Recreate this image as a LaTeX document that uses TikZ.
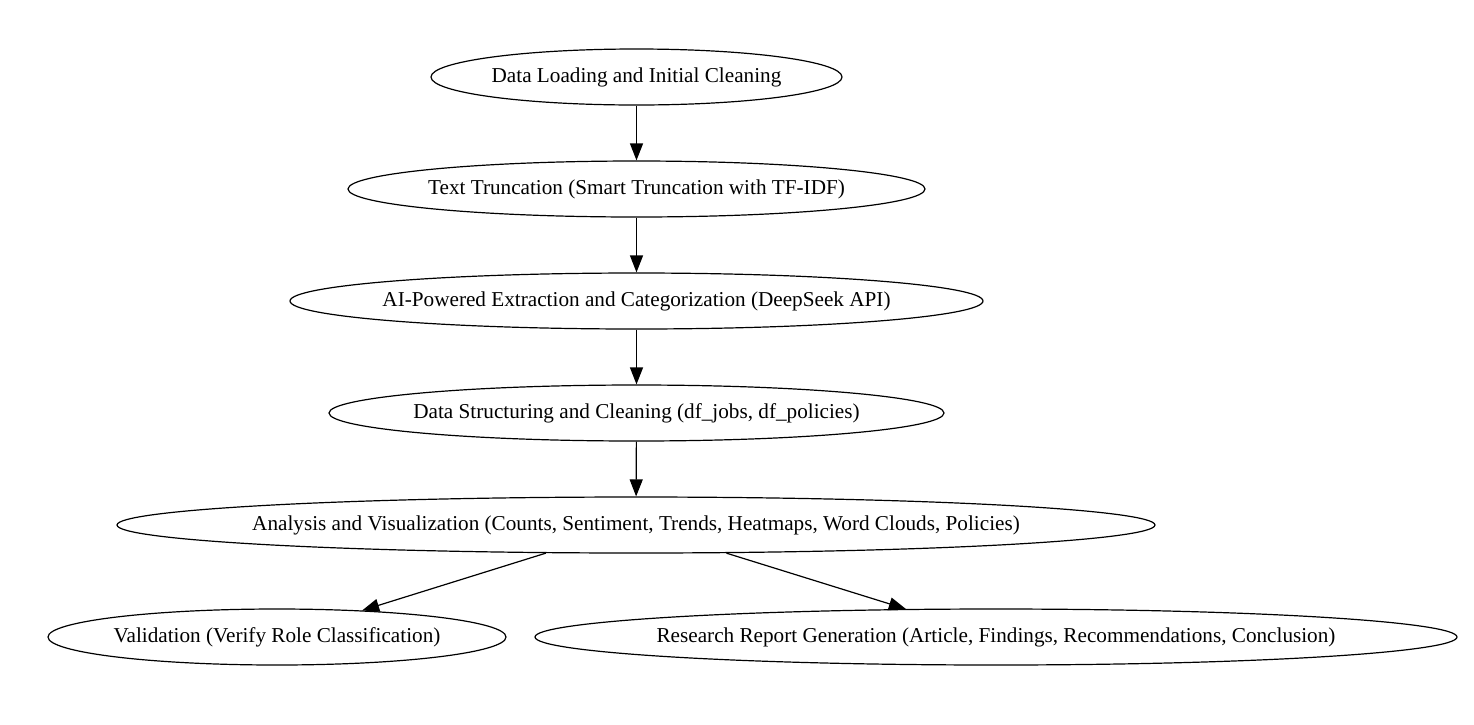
\documentclass[tikz,border=0pt]{standalone}
\usepackage{fontspec}
\setmainfont{Liberation Serif}
\usetikzlibrary{shapes.geometric,arrows.meta}
\newcommand{\etiq}[1]{\makebox[0pt]{#1}}
\tikzset{
  etape/.style={draw, ellipse, line width=1.2pt, inner sep=0pt,
    minimum height=56pt, font=\fontsize{21.2}{24}\selectfont},
  fleche/.style={line width=1.2pt, -{Triangle[length=17pt,width=13pt]}}
}
\begin{document}
\begin{tikzpicture}[x=1pt,y=-1pt]

\useasboundingbox (0,0) rectangle (1474,724);

% Etapes
\node[etape, minimum width=411pt] (chargement) at (636.5,77)
{\etiq{Data Loading and Initial Cleaning}};

\node[etape, minimum width=577pt] (troncature) at (636.5,189)
{\etiq{Text Truncation (Smart Truncation with TF-IDF)}};

\node[etape, minimum width=693pt] (extraction) at (636.5,301)
{\etiq{AI-Powered Extraction and Categorization (DeepSeek API)}};

\node[etape, minimum width=615pt] (structure) at (636.5,413)
{\etiq{Data Structuring and Cleaning (df\_jobs, df\_policies)}};

\node[etape, minimum width=1038pt] (analyse) at (636,525)
{\etiq{Analysis and Visualization (Counts, Sentiment, Trends, Heatmaps, Word Clouds, Policies)}};

\node[etape, minimum width=458pt] (validation) at (277,637)
{\etiq{Validation (Verify Role Classification)}};

\node[etape, minimum width=922pt] (rapport) at (996,637)
{\etiq{Research Report Generation (Article, Findings, Recommendations, Conclusion)}};

% Fleches
\draw[fleche] (chargement) -- (troncature);
\draw[fleche] (troncature) -- (extraction);
\draw[fleche] (extraction) -- (structure);
\draw[fleche] (structure) -- (analyse);
\draw[fleche] (analyse) -- (validation);
\draw[fleche] (analyse) -- (rapport);

\end{tikzpicture}
\end{document}
